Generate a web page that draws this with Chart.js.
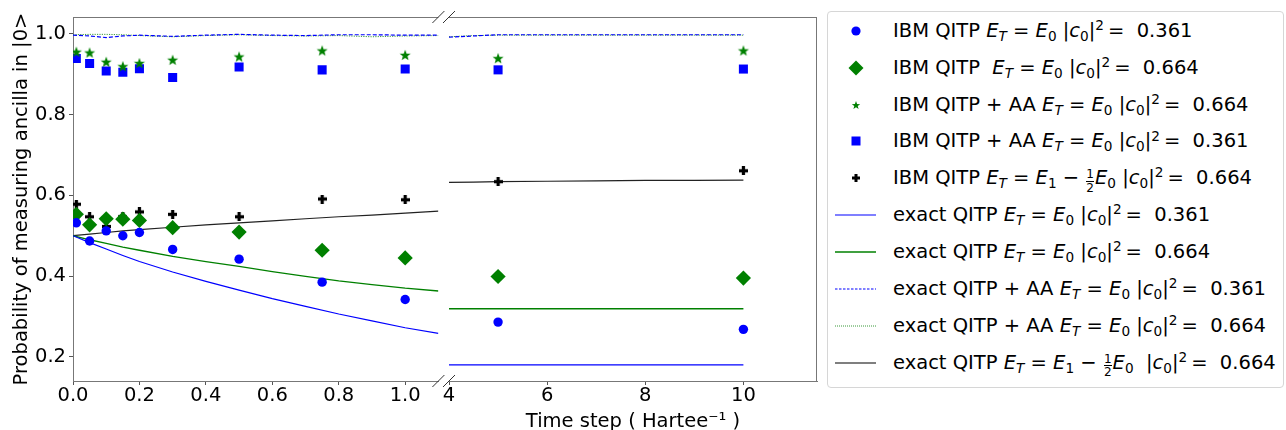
<!DOCTYPE html>
<html>
<head>
<meta charset="utf-8">
<script src="https://cdn.jsdelivr.net/npm/chart.js@4.4.1/dist/chart.umd.min.js"></script>
<style>
  body { margin: 0; background: #fff; font-family: 'DejaVu Sans', sans-serif; }
  #wrap { position: relative; width: 1286px; height: 430px; overflow: hidden; }
  .pane { position: absolute; top: 0; height: 430px; }
  #legend { position: absolute; left: 827px; top: 11px; width: 455px; height: 375px;
            border: 1px solid #d6d6d6; border-radius: 4px; background: #fff; }
  .row { position: absolute; left: 0; height: 36px; width: 455px; }
  .row svg { position: absolute; left: 7px; top: 0; }
  .row .txt { position: absolute; left: 65px; top: 0; height: 36px; line-height: 36px;
              font-size: 19.5px; color: #000; white-space: pre; }
  .txt sub, .txt sup { font-size: 0.7em; line-height: 0; vertical-align: baseline; position: relative; }
  .txt sub { top: 0.3em; }
  .txt sup { top: -0.5em; }
  .frac { display: inline-flex; flex-direction: column; font-size: 0.62em; line-height: 1.02;
          vertical-align: 0.5em; text-align: center; margin: 0 1px; }
  .frac span:first-child { border-bottom: 1px solid #000; }
</style>
</head>
<body>
<div id="wrap">
  <div class="pane" style="left:0;width:446px"><canvas id="left"></canvas></div>
  <div class="pane" style="left:441px;width:384px"><canvas id="right"></canvas></div>
  <div id="legend"></div>
</div>
<script>
// measured points (IBM runs)
const tPoints   = [0.01, 0.05, 0.1, 0.15, 0.2, 0.3, 0.5, 0.75, 1.0, 5, 10];
const ibmE0_361 = [0.532, 0.487, 0.512, 0.500, 0.508, 0.466, 0.442, 0.385, 0.342, 0.286, 0.268];
const ibmE0_664 = [0.553, 0.527, 0.542, 0.541, 0.538, 0.520, 0.509, 0.464, 0.445, 0.399, 0.395];
const ibmAA_664 = [0.956, 0.954, 0.931, 0.920, 0.928, 0.936, 0.944, 0.959, 0.948, 0.940, 0.959];
const ibmAA_361 = [0.939, 0.927, 0.908, 0.905, 0.914, 0.892, 0.918, 0.911, 0.913, 0.911, 0.913];
const ibmE1_664 = [0.578, 0.547, 0.523, 0.547, 0.559, 0.553, 0.547, 0.591, 0.589, 0.634, 0.661];

// exact curves, left panel
const tLeft       = [0, 0.05, 0.1, 0.15, 0.2, 0.3, 0.4, 0.5, 0.6, 0.7, 0.8, 0.9, 1.0, 1.1];
const exE0_361_L  = [0.500, 0.483, 0.467, 0.451, 0.436, 0.410, 0.387, 0.365, 0.344, 0.325, 0.306, 0.289, 0.272, 0.258];
const exE0_664_L  = [0.500, 0.490, 0.481, 0.472, 0.464, 0.449, 0.436, 0.424, 0.411, 0.399, 0.388, 0.379, 0.370, 0.363];
const exAA_361_L  = [0.997, 0.995, 0.991, 0.995, 0.997, 0.994, 0.997, 0.999, 0.997, 0.996, 0.998, 0.998, 0.997, 0.997];
const exAA_664_L  = [0.998, 0.999, 0.999, 0.998, 0.996, 0.993, 0.996, 0.998, 0.996, 0.995, 0.996, 0.993, 0.995, 0.996];
const exE1_664_L  = [0.500, 0.504, 0.508, 0.512, 0.515, 0.521, 0.527, 0.532, 0.537, 0.542, 0.547, 0.551, 0.556, 0.561];

// exact curves, right panel
const tRight      = [4, 4.5, 5, 6, 7, 8, 9, 10];
const exE0_361_R  = [0.180, 0.180, 0.180, 0.180, 0.180, 0.180, 0.180, 0.180];
const exE0_664_R  = [0.319, 0.319, 0.319, 0.319, 0.319, 0.319, 0.319, 0.319];
const exAA_361_R  = [0.992, 0.995, 0.998, 0.998, 0.998, 0.998, 0.998, 0.998];
const exAA_664_R  = [0.993, 0.996, 0.997, 0.997, 0.997, 0.997, 0.997, 0.997];
const exE1_664_R  = [0.632, 0.633, 0.634, 0.635, 0.636, 0.637, 0.637, 0.638];

const yMin = 0.14, yMax = 1.042;
const yTitle = 'Probability of measuring ancilla in |0>';
const xTitle = 'Time step ( Hartee\u207B\u00B9 )';

const ET = '<i>E</i><sub><i>T</i></sub>';
const E0 = '<i>E</i><sub>0</sub>';
const E1 = '<i>E</i><sub>1</sub>';
const C0 = '|<i>c</i><sub>0</sub>|<sup>2</sup>';
const HALF = '<span class="frac"><span>1</span><span>2</span></span>';
const seriesLabels = [
  `IBM QITP ${ET} = ${E0} ${C0}\u2009=  0.361`,
  `IBM QITP  ${ET} = ${E0} ${C0}\u2009=  0.664`,
  `IBM QITP + AA ${ET} = ${E0} ${C0}\u2009=  0.664`,
  `IBM QITP + AA ${ET} = ${E0} ${C0}\u2009=  0.361`,
  `IBM QITP ${ET} = ${E1} \u2212 ${HALF}${E0} ${C0}\u2009=  0.664`,
  `exact QITP ${ET} = ${E0} ${C0}\u2009=  0.361`,
  `exact QITP ${ET} = ${E0} ${C0}\u2009=  0.664`,
  `exact QITP + AA ${ET} = ${E0} ${C0}\u2009=  0.361`,
  `exact QITP + AA ${ET} = ${E0} ${C0}\u2009=  0.664`,
  `exact QITP ${ET} = ${E1} \u2212 ${HALF}${E0}  ${C0}\u2009=  0.664`
];

const BLUE = '#0000ff', GREEN = '#008000', BLACK = '#000000';

function starImg(r, color){
  const c = document.createElement('canvas');
  const s = Math.ceil(2 * r + 2);
  c.width = s; c.height = s;
  const g = c.getContext('2d');
  g.fillStyle = color;
  g.beginPath();
  for (let i = 0; i < 10; i++) {
    const a = -Math.PI / 2 + i * Math.PI / 5;
    const rr = i % 2 ? r * 0.42 : r;
    g.lineTo(s / 2 + rr * Math.cos(a), s / 2 + 0.6 + rr * Math.sin(a));
  }
  g.closePath(); g.fill();
  return c;
}
function plusImg(size, color){
  const c = document.createElement('canvas');
  c.width = size; c.height = size;
  const g = c.getContext('2d');
  g.fillStyle = color;
  const t = size * 0.36;
  g.fillRect((size - t) / 2, 0, t, size);
  g.fillRect(0, (size - t) / 2, size, t);
  return c;
}

const xy = (xs, ys) => xs.map((x, i) => ({ x, y: ys[i] }));

function pointSets(){
  const base = { showLine: false, borderWidth: 0 };
  return [
    { ...base, data: xy(tPoints, ibmE0_361), pointStyle: 'circle', pointRadius: 4.7, backgroundColor: BLUE },
    { ...base, data: xy(tPoints, ibmE0_664), pointStyle: 'rectRot', pointRadius: 7.6, backgroundColor: GREEN },
    { ...base, data: xy(tPoints, ibmAA_664), pointStyle: starImg(5.8, GREEN), pointRadius: 5, backgroundColor: GREEN },
    { ...base, data: xy(tPoints, ibmAA_361), pointStyle: 'rect', pointRadius: 6.4, backgroundColor: BLUE },
    { ...base, data: xy(tPoints, ibmE1_664), pointStyle: plusImg(9, BLACK), pointRadius: 5, backgroundColor: BLACK }
  ];
}
function lineSets(ts, a, b, c, d, e){
  const base = { showLine: true, pointRadius: 0, fill: false, tension: 0 };
  return [
    { ...base, data: xy(ts, a), borderColor: BLUE, borderWidth: 1.2 },
    { ...base, data: xy(ts, b), borderColor: GREEN, borderWidth: 1.3 },
    { ...base, data: xy(ts, c), borderColor: BLUE, borderWidth: 1.2, borderDash: [4, 2] },
    { ...base, data: xy(ts, d), borderColor: '#3a9a3a', borderWidth: 1, borderDash: [1.2, 1.2] },
    { ...base, data: xy(ts, e), borderColor: '#222', borderWidth: 1.2 }
  ];
}

// spines not drawn by the axes + the broken-axis slashes
const frame = {
  id: 'frame',
  afterDraw(chart, args, opts){
    const { ctx, chartArea: a } = chart;
    ctx.save();
    ctx.strokeStyle = '#777'; ctx.lineWidth = 1;
    ctx.beginPath();
    ctx.moveTo(a.left, a.top + 0.5); ctx.lineTo(a.right, a.top + 0.5);
    if (opts.side === 'right') { ctx.moveTo(a.right - 0.5, a.top); ctx.lineTo(a.right - 0.5, a.bottom); }
    ctx.stroke();
    const bx = opts.side === 'right' ? a.left : a.right;
    ctx.strokeStyle = '#333';
    ctx.beginPath();
    [a.top, a.bottom].forEach(by => { ctx.moveTo(bx - 6, by + 6); ctx.lineTo(bx + 6, by - 6); });
    ctx.stroke();
    ctx.restore();
  }
};

Chart.defaults.font.family = "'DejaVu Sans', sans-serif";
Chart.defaults.font.size = 19.5;
Chart.defaults.color = '#000';

const tickGrid = { drawOnChartArea: false, tickLength: 4, color: '#555' };

function makeChart(id, side){
  const left = side === 'left';
  const datasets = pointSets().concat(left
    ? lineSets(tLeft, exE0_361_L, exE0_664_L, exAA_361_L, exAA_664_L, exE1_664_L)
    : lineSets(tRight, exE0_361_R, exE0_664_R, exAA_361_R, exAA_664_R, exE1_664_R));
  const yAxis = {
    type: 'linear', min: yMin, max: yMax, display: left,
    ticks: { stepSize: 0.2, includeBounds: false, padding: 3, callback: v => v.toFixed(1) },
    grid: tickGrid,
    border: { color: '#777' },
    title: { display: left, text: yTitle, padding: { top: 10, bottom: 0 } }
  };
  if (left) yAxis.afterFit = s => { s.width = 73; };
  return new Chart(document.getElementById(id), {
    type: 'scatter',
    data: { datasets },
    options: {
      responsive: true, maintainAspectRatio: false, animation: false, events: [],
      layout: { padding: left ? { left: 0, right: 6, top: 17, bottom: 0 } : { left: 8, right: 8, top: 17, bottom: 0 } },
      plugins: { legend: { display: false }, tooltip: { enabled: false }, frame: { side } },
      scales: {
        x: {
          type: 'linear',
          min: left ? 0 : 4, max: left ? 1.1 : 11.5,
          afterFit: s => { s.height = 49; },
          ticks: { stepSize: left ? 0.2 : 2, includeBounds: false, padding: -1, maxRotation: 0,
                   callback: v => left ? v.toFixed(1) : String(v) },
          grid: tickGrid,
          border: { color: '#777' },
          title: { display: !left, text: xTitle, padding: { top: 0, bottom: -4 } }
        },
        y: yAxis
      }
    },
    plugins: [frame]
  });
}

makeChart('left', 'left');
makeChart('right', 'right');

// legend (html so the math labels keep sub/superscripts)
const legendMarks = [
  `<circle cx="21" cy="18" r="4.6" fill="${BLUE}"/>`,
  `<polygon points="13.5,18 21,10.5 28.5,18 21,25.5" fill="${GREEN}"/>`,
  (() => { const p = []; for (let i = 0; i < 10; i++) { const a = -Math.PI/2 + i*Math.PI/5, r = i % 2 ? 1.8 : 4.4;
      p.push((21 + r*Math.cos(a)).toFixed(2) + ',' + (18.5 + r*Math.sin(a)).toFixed(2)); }
      return `<polygon points="${p.join(' ')}" fill="${GREEN}"/>`; })(),
  `<rect x="16.5" y="13.5" width="9" height="9" fill="${BLUE}"/>`,
  `<rect x="17" y="16.5" width="8" height="3" fill="#000"/><rect x="19.5" y="14" width="3" height="8" fill="#000"/>`,
  `<line x1="0" y1="18" x2="41" y2="18" stroke="${BLUE}" stroke-width="1.2"/>`,
  `<line x1="0" y1="18" x2="41" y2="18" stroke="${GREEN}" stroke-width="1.3"/>`,
  `<line x1="0" y1="18" x2="41" y2="18" stroke="${BLUE}" stroke-width="1.1" stroke-dasharray="2.5 1.5"/>`,
  `<line x1="0" y1="18" x2="41" y2="18" stroke="#3a9a3a" stroke-width="1" stroke-dasharray="1 1"/>`,
  `<line x1="0" y1="18" x2="41" y2="18" stroke="#555" stroke-width="1.3"/>`
];
const leg = document.getElementById('legend');
seriesLabels.forEach((lab, i) => {
  const row = document.createElement('div');
  row.className = 'row';
  row.style.top = (18.7 + 36.9 * i - 18) + 'px';
  row.innerHTML = `<svg width="42" height="36">${legendMarks[i]}</svg><span class="txt">${lab}</span>`;
  leg.appendChild(row);
});
</script>
</body>
</html>
